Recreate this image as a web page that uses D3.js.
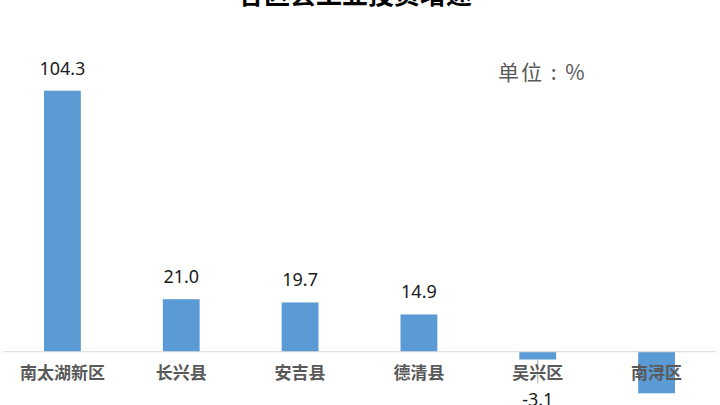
<!DOCTYPE html>
<html>
<head>
<meta charset="utf-8">
<script src="https://cdn.jsdelivr.net/npm/d3@7"></script>
<style>
  body { margin: 0; background: #fff; }
  svg { display: block; }
</style>
</head>
<body>
<div id="chart"></div>
<script>
var categories = ['南太湖新区', '长兴县', '安吉县', '德清县', '吴兴区', '南浔区'];
var values = [104.3, 21.0, 19.7, 14.9, -3.1, -16.6];
var titleText = '各区县工业投资增速';
var unitText = '单位 : %';

var width = 720, height = 405;

var svg = d3.select('#chart').append('svg')
    .attr('width', width)
    .attr('height', height);

var xScale = d3.scaleBand()
    .domain(categories)
    .range([3, 716])
    .paddingInner(0.69)
    .paddingOuter(0.345);

var yScale = d3.scaleLinear()
    .domain([-20, 120])
    .range([401.8, 51.4]);

function labelY(d){
    return d >= 0 ? yScale(d) - 16 : yScale(d) + 46;
}
// labels that would fall entirely below the frame are not seen in the chart
var shown = values.map(function(d, i){ return {v: d, c: categories[i]}; })
    .filter(function(o){ return labelY(o.v) - 13 < height; });

// bars
svg.selectAll('rect.bar')
    .data(values)
    .enter()
    .append('rect')
    .attr('class', 'bar')
    .attr('x', function(d, i){ return xScale(categories[i]); })
    .attr('y', function(d){ return yScale(Math.max(0, d)); })
    .attr('width', xScale.bandwidth())
    .attr('height', function(d){ return Math.abs(yScale(d) - yScale(0)); })
    .attr('fill', '#5b9bd5');

// axis line at zero
svg.append('line')
    .attr('x1', 3).attr('x2', 716)
    .attr('y1', yScale(0)).attr('y2', yScale(0))
    .attr('stroke', '#d9d9d9')
    .attr('stroke-width', 1.2);

// leader lines for negative labels
svg.selectAll('line.leader')
    .data(shown.filter(function(o){ return o.v < 0; }))
    .enter()
    .append('line')
    .attr('class', 'leader')
    .attr('x1', function(o){ return xScale(o.c) + xScale.bandwidth() / 2; })
    .attr('x2', function(o){ return xScale(o.c) + xScale.bandwidth() / 2; })
    .attr('y1', function(o){ return yScale(o.v); })
    .attr('y2', function(o){ return yScale(o.v) + 24; })
    .attr('stroke', '#a6a6a6')
    .attr('stroke-width', 1);

// category labels (drawn over the bars)
var xAxis = d3.axisBottom(xScale).tickSize(0).tickPadding(0);
var gx = svg.append('g')
    .attr('transform', 'translate(0,' + yScale(0) + ')')
    .call(xAxis);
gx.select('.domain').remove();
gx.selectAll('text')
    .attr('y', 22)
    .attr('dy', '0.32em')
    .attr('fill', '#595959')
    .style('font-family', '"Noto Sans CJK SC", sans-serif')
    .style('font-size', '17px')
    .style('font-weight', 'bold');

// data labels
svg.selectAll('text.value')
    .data(shown)
    .enter()
    .append('text')
    .attr('class', 'value')
    .attr('x', function(o){ return xScale(o.c) + xScale.bandwidth() / 2; })
    .attr('y', function(o){ return labelY(o.v); })
    .attr('text-anchor', 'middle')
    .attr('fill', '#1a1a1a')
    .style('font-family', '"Noto Sans", sans-serif')
    .style('font-size', '18px')
    .text(function(o){ return o.v.toFixed(1); });

// title
svg.append('text')
    .attr('x', 355)
    .attr('y', -5)
    .attr('dy', '0.35em')
    .attr('text-anchor', 'middle')
    .attr('fill', '#000')
    .style('font-family', '"Noto Sans CJK SC", sans-serif')
    .style('font-size', '26px')
    .style('font-weight', 'bold')
    .text(titleText);

// unit note
svg.append('text')
    .attr('x', 498)
    .attr('y', 73)
    .attr('dy', '0.35em')
    .attr('fill', '#595959')
    .style('font-family', '"Noto Sans CJK SC", sans-serif')
    .style('font-size', '21px')
    .style('letter-spacing', '2px')
    .style('white-space', 'pre')
    .text(unitText);
</script>
</body>
</html>
